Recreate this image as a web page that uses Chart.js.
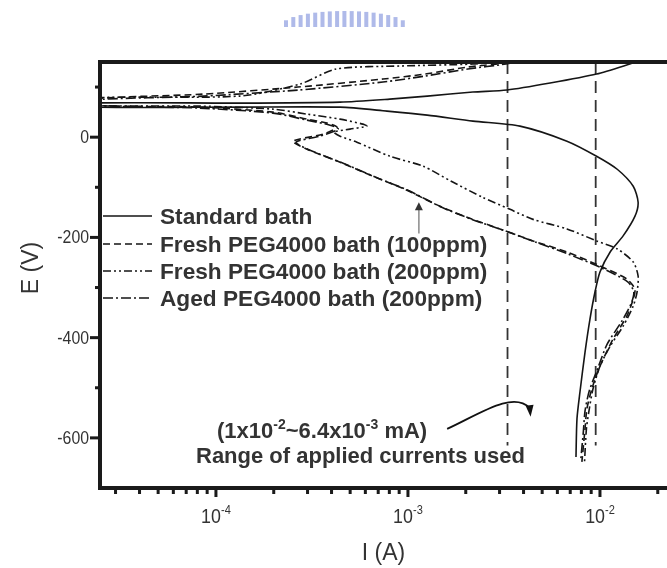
<!DOCTYPE html>
<html>
<head>
<meta charset="utf-8">
<script src="https://cdn.jsdelivr.net/npm/chart.js@4.4.0/dist/chart.umd.min.js"></script>
<style>
  html, body { margin: 0; padding: 0; background: #fff; }
  #wrap { width: 667px; height: 568px; position: relative; }
</style>
</head>
<body>
<div id="wrap"><canvas id="polChart" width="667" height="568"></canvas></div>
<script>
// Axis range (current in A, potential in mV shown as "E (V)")
const xMin = 2.49e-5, xMax = 2.234e-2;
const yMin = -700, yMax = 150;
const xMajorTicks = [1e-4, 1e-3, 1e-2];
const xMajorExp = ['-4', '-3', '-2'];
const yMajorTicks = [0, -200, -400, -600];
const yMinorTicks = [100, -100, -300, -500];

const seriesNames = [
    'Standard bath',
    'Fresh PEG4000 bath (100ppm)',
    'Fresh PEG4000 bath (200ppm)',
    'Aged PEG4000 bath (200ppm)'
];

// Standard bath: from the anodic end (top right) to the rest potential, then cathodic
const stdI = [1.71e-2, 1.43e-2, 9.6e-3, 5.5e-3, 3.28e-3, 2.18e-3, 1.26e-3, 8.05e-4, 4.43e-4, 1.33e-4, 2.2e-5,
    2.2e-5, 1.33e-4, 4.43e-4, 7.78e-4, 1.26e-3, 2.18e-3, 3.83e-3, 6.73e-3, 9.6e-3, 1.23e-2, 1.49e-2, 1.58e-2,
    1.52e-2, 1.32e-2, 1.13e-2, 1.0e-2, 9.42e-3, 8.87e-3, 8.36e-3, 7.87e-3, 7.59e-3, 7.5e-3];
const stdE = [156, 146, 126, 108, 94, 90, 82, 76, 70, 68, 68,
    60, 60, 60, 52, 44, 32, 22, -8, -38, -64, -98, -130,
    -158, -197, -229, -269, -309, -363, -429, -508, -562, -638];

// Fresh PEG4000 bath, 100 ppm
const fresh100I = [3.8e-3, 3.24e-3, 2.05e-3, 1.23e-3, 7.41e-4, 2.67e-4, 8.65e-5, 2.2e-5,
    2.2e-5, 8.25e-5, 1.98e-4, 2.98e-4, 3.79e-4, 4.27e-4, 3.61e-4, 2.52e-4, 2.98e-4, 4.43e-4, 6.58e-4,
    9.64e-4, 1.47e-3, 2.1e-3, 3.01e-3, 4.48e-3, 6.73e-3, 1.0e-2, 1.38e-2, 1.52e-2, 1.49e-2, 1.38e-2,
    1.17e-2, 1.0e-2, 9.08e-3, 8.55e-3, 8.36e-3, 8.05e-3];
const fresh100E = [154, 148, 140, 126, 116, 100, 86, 76,
    64, 60, 50, 36, 28, 20, 6, -8, -24, -50, -78,
    -104, -138, -162, -183, -207, -229, -257, -283, -303, -323, -357,
    -403, -457, -502, -542, -582, -648];

// Fresh PEG4000 bath, 200 ppm
const fresh200I = [3.83e-3, 2.18e-3, 9.08e-4, 4.22e-4, 2.74e-4, 1.33e-4, 2.2e-5,
    2.2e-5, 8.25e-5, 1.98e-4, 2.98e-4, 4.43e-4, 5.83e-4, 6.1e-4, 4.99e-4, 4.12e-4, 4.43e-4, 5.42e-4,
    8.05e-4, 1.2e-3, 1.68e-3, 2.45e-3, 3.4e-3, 4.48e-3, 6.73e-3, 9.6e-3, 1.23e-2, 1.49e-2, 1.58e-2,
    1.56e-2, 1.49e-2, 1.32e-2, 1.13e-2, 1.0e-2, 9.2e-3, 8.8e-3, 8.5e-3, 8.3e-3];
const fresh200E = [154, 146, 142, 136, 106, 82, 78,
    64, 62, 56, 46, 36, 26, 22, 16, 10, 2, -10,
    -38, -58, -88, -120, -144, -164, -183, -207, -223, -249, -277,
    -309, -337, -377, -417, -457, -502, -542, -582, -652];

// Aged PEG4000 bath, 200 ppm
const aged200I = [4.3e-3, 3.24e-3, 2.05e-3, 1.23e-3, 7.41e-4, 2.67e-4, 8.65e-5, 2.2e-5,
    2.2e-5, 8.25e-5, 1.98e-4, 2.98e-4, 3.93e-4, 4.33e-4, 3.47e-4, 2.61e-4, 3.09e-4, 4.6e-4, 6.8e-4,
    1.0e-3, 1.5e-3, 2.15e-3, 3.1e-3, 4.6e-3, 6.8e-3, 1.02e-2, 1.4e-2, 1.5e-2, 1.45e-2, 1.3e-2,
    1.09e-2, 9.7e-3, 8.8e-3, 8.36e-3, 8.2e-3, 7.95e-3];
const aged200E = [154, 146, 136, 122, 110, 94, 82, 74,
    64, 58, 48, 34, 24, 16, 2, -10, -26, -52, -80,
    -106, -140, -164, -185, -209, -233, -261, -289, -309, -333, -367,
    -413, -463, -506, -546, -586, -642];

// range of applied currents (vertical reference lines)
const refI = [3.3e-3, 9.5e-3];
const refE = [150, -615];

// annotation anchors (data coordinates)
const curveArrow = [[1.6e-3, -582], [2.3e-3, -555], [3.5e-3, -505], [4.3e-3, -540]];
const greyArrow = [[1.14e-3, -192], [1.14e-3, -130]];

const lineStyles = [[], [7, 4], [8, 3, 2, 3, 2, 3], [10, 3, 2, 3]];
const ink = '#151515';

function toPoints(xs, ys) {
    return xs.map((x, i) => ({ x: x, y: ys[i] }));
}

const curves = [[stdI, stdE], [fresh100I, fresh100E], [fresh200I, fresh200E], [aged200I, aged200E]];

const datasets = curves.map((c, i) => ({
    label: seriesNames[i],
    data: toPoints(c[0], c[1]),
    borderColor: ink,
    borderWidth: 1.6,
    borderDash: lineStyles[i],
    pointRadius: 0,
    showLine: true,
    fill: false,
    tension: 0.25
}));

refI.forEach(v => {
    datasets.push({
        label: 'ref',
        data: toPoints([v, v], refE),
        borderColor: '#333',
        borderWidth: 1.8,
        borderDash: [12, 7],
        pointRadius: 0,
        showLine: true,
        fill: false
    });
});

function txt(ctx, s, x, y, font, align, sx) {
    ctx.save();
    ctx.font = font;
    ctx.textAlign = align;
    ctx.textBaseline = 'alphabetic';
    ctx.translate(x, y);
    ctx.scale(sx || 1, 1);
    ctx.fillText(s, 0, 0);
    ctx.restore();
}

// draws runs of [text, isSuperscript] from x, returns end x
function runs(ctx, parts, x, y, size, weight, sx) {
    parts.forEach(p => {
        const fs = p[1] ? Math.round(size * 0.62) : size;
        ctx.font = weight + ' ' + fs + 'px "Liberation Sans", Arial, sans-serif';
        const w = ctx.measureText(p[0]).width * sx;
        txt(ctx, p[0], x, p[1] ? y - size * 0.42 : y, ctx.font, 'left', sx);
        x += w;
    });
    return x;
}

function runsWidth(ctx, parts, size, weight, sx) {
    let w = 0;
    parts.forEach(p => {
        const fs = p[1] ? Math.round(size * 0.62) : size;
        ctx.font = weight + ' ' + fs + 'px "Liberation Sans", Arial, sans-serif';
        w += ctx.measureText(p[0]).width * sx;
    });
    return w;
}

const overlay = {
    id: 'overlay',
    afterDraw(chart) {
        const ctx = chart.ctx;
        const xs = chart.scales.x, ys = chart.scales.y;
        const a = chart.chartArea;
        const px = v => xs.getPixelForValue(v);
        const py = v => ys.getPixelForValue(v);

        ctx.save();

        // faint logo remnant at the top
        ctx.fillStyle = 'rgba(110,130,215,0.55)';
        for (let i = 0; i < 17; i++) {
            const x = 284 + i * 7.3;
            const t = (i - 8) / 8.5;
            const h = 14 * Math.sqrt(Math.max(0, 1 - t * t)) + 2;
            ctx.fillRect(x, 27 - h, 4, h);
        }

        // frame
        ctx.fillStyle = '#1a1a1a';
        ctx.fillRect(a.left - 2, a.top - 2, a.right - a.left + 2, 4);
        ctx.fillRect(a.left - 2, a.top - 2, 4, a.bottom - a.top + 4);
        ctx.fillRect(a.left - 2, a.bottom - 2, a.right - a.left + 2, 4);

        // y ticks
        yMajorTicks.forEach(v => ctx.fillRect(a.left - 10, py(v) - 1.5, 9, 3));
        yMinorTicks.forEach(v => ctx.fillRect(a.left - 5, py(v) - 1.5, 4, 3));

        // x ticks
        for (let d = -5; d <= -2; d++) {
            for (let m = 1; m <= 9; m++) {
                const v = m * Math.pow(10, d);
                if (v < xMin || v > xMax) continue;
                const major = m === 1;
                ctx.fillRect(px(v) - 1.5, a.bottom + 1, 3, major ? 8 : 5);
            }
        }

        // y tick labels
        ctx.fillStyle = '#333';
        yMajorTicks.forEach(v => {
            txt(ctx, String(v), a.left - 11, py(v) + 6, '18px "Liberation Sans", Arial, sans-serif', 'right', 0.88);
        });

        // x tick labels
        xMajorTicks.forEach((v, i) => {
            const parts = [['10', false], [xMajorExp[i], true]];
            const w = runsWidth(ctx, parts, 21, 'normal', 0.85);
            runs(ctx, parts, px(v) - w / 2, a.bottom + 35, 21, 'normal', 0.85);
        });

        // axis titles
        txt(ctx, 'I (A)', (a.left + a.right) / 2, 560, '23px "Liberation Sans", Arial, sans-serif', 'center', 1);
        ctx.save();
        ctx.translate(38, 268);
        ctx.rotate(-Math.PI / 2);
        txt(ctx, 'E (V)', 0, 0, '23px "Liberation Sans", Arial, sans-serif', 'center', 1);
        ctx.restore();

        // legend
        const rows = [216, 244, 271, 298];
        rows.forEach((y, i) => {
            ctx.save();
            ctx.strokeStyle = ink;
            ctx.lineWidth = 1.6;
            ctx.setLineDash(lineStyles[i]);
            ctx.beginPath();
            ctx.moveTo(a.left + 3, y);
            ctx.lineTo(152, y);
            ctx.stroke();
            ctx.restore();
            txt(ctx, seriesNames[i], 160, y + 8, 'bold 22px "Liberation Sans", Arial, sans-serif', 'left', 1.03);
        });

        // range annotation text
        runs(ctx, [['(1x10', false], ['-2', true], ['~6.4x10', false], ['-3', true], [' mA)', false]],
            217, 438, 22, 'bold', 1.0);
        txt(ctx, 'Range of applied currents used', 196, 463, 'bold 22px "Liberation Sans", Arial, sans-serif', 'left', 1.0);

        // curved arrow
        const c = curveArrow.map(p => [px(p[0]), py(p[1])]);
        ctx.strokeStyle = '#111';
        ctx.lineWidth = 1.8;
        ctx.setLineDash([]);
        ctx.beginPath();
        ctx.moveTo(c[0][0], c[0][1]);
        ctx.bezierCurveTo(c[1][0], c[1][1], c[2][0], c[2][1], c[3][0], c[3][1]);
        ctx.stroke();
        ctx.fillStyle = '#111';
        ctx.beginPath();
        ctx.moveTo(c[3][0] - 4, c[3][1] - 2);
        ctx.lineTo(c[3][0] + 4, c[3][1] - 3);
        ctx.lineTo(c[3][0] + 1, c[3][1] + 9);
        ctx.closePath();
        ctx.fill();

        // grey pointer to the curves
        const g0 = [px(greyArrow[0][0]), py(greyArrow[0][1])];
        const g1 = [px(greyArrow[1][0]), py(greyArrow[1][1])];
        ctx.strokeStyle = '#8a8a8a';
        ctx.lineWidth = 1.5;
        ctx.beginPath();
        ctx.moveTo(g0[0], g0[1]);
        ctx.lineTo(g1[0], g1[1] + 6);
        ctx.stroke();
        ctx.fillStyle = '#333';
        ctx.beginPath();
        ctx.moveTo(g1[0], g1[1]);
        ctx.lineTo(g1[0] - 4, g1[1] + 8);
        ctx.lineTo(g1[0] + 4, g1[1] + 8);
        ctx.closePath();
        ctx.fill();

        ctx.restore();
    }
};

new Chart(document.getElementById('polChart').getContext('2d'), {
    type: 'scatter',
    data: { datasets: datasets },
    options: {
        responsive: false,
        animation: false,
        layout: { padding: { left: 100, right: 0, top: 62, bottom: 80 } },
        plugins: {
            legend: { display: false },
            tooltip: { enabled: false }
        },
        scales: {
            x: { type: 'logarithmic', min: xMin, max: xMax, display: false },
            y: { type: 'linear', min: yMin, max: yMax, display: false }
        }
    },
    plugins: [overlay]
});
</script>
</body>
</html>
